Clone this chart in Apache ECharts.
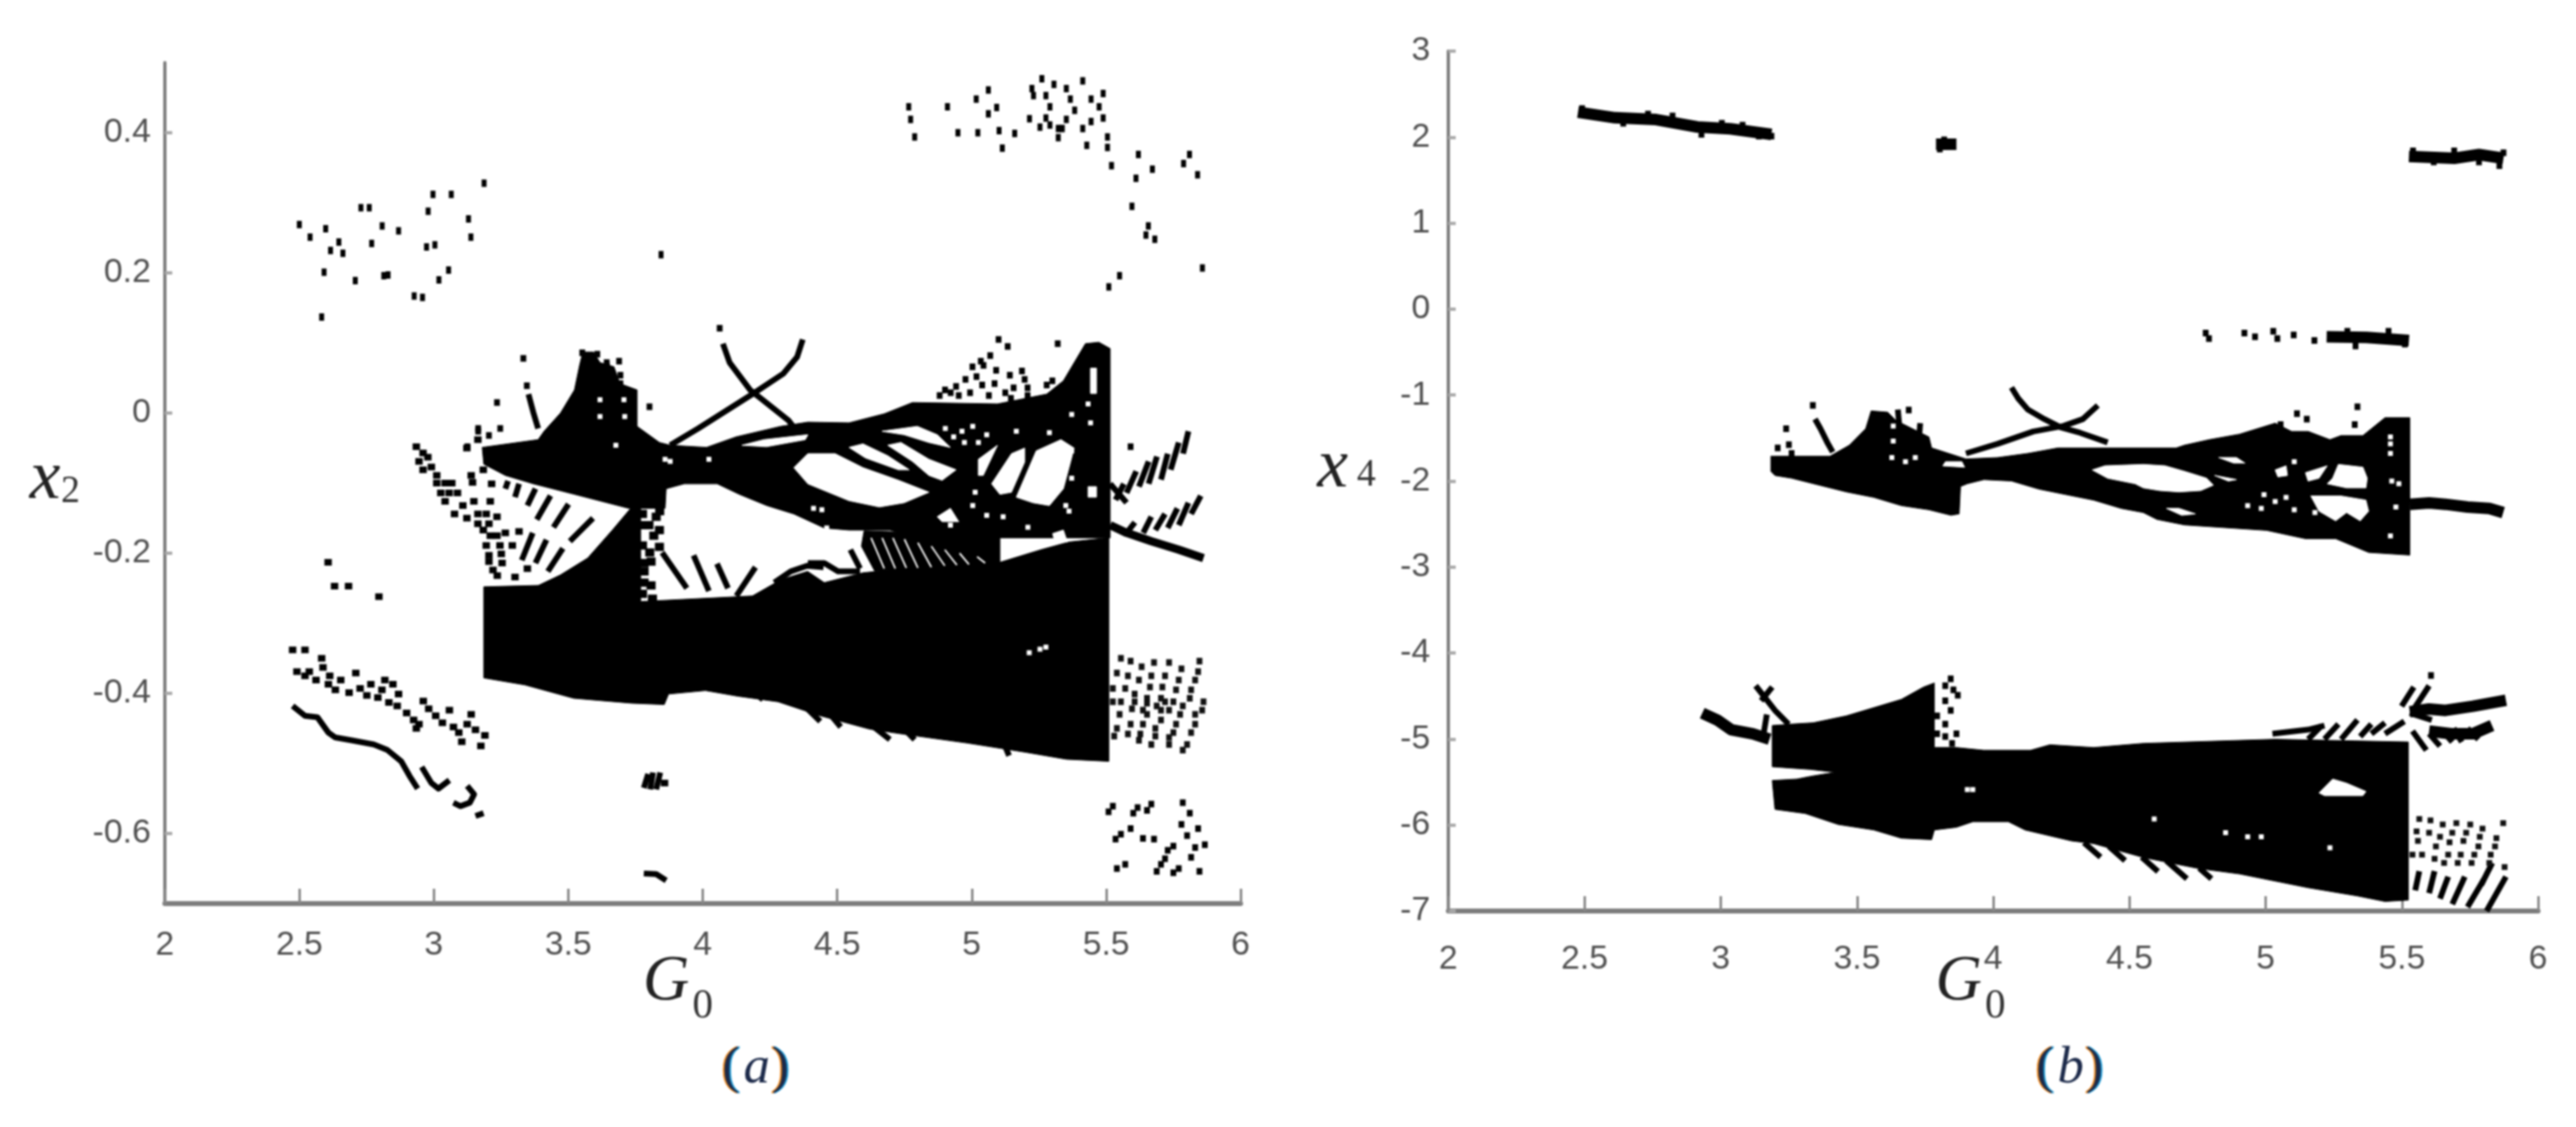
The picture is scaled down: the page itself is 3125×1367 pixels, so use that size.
<!DOCTYPE html>
<html><head><meta charset="utf-8">
<script src="https://cdn.jsdelivr.net/npm/echarts@6/dist/echarts.min.js"></script>
<style>html,body{margin:0;padding:0;background:#fff}#c{width:3125px;height:1367px;filter:blur(0.9px)}</style>
</head><body><div id="c"></div>
<script>
var gTicks=[2,2.5,3,3.5,4,4.5,5,5.5,6];
var x2Ticks=[-0.6,-0.4,-0.2,0,0.2,0.4];
var x4Ticks=[-7,-6,-5,-4,-3,-2,-1,0,1,2,3];

// ---------- panel (a): G0 vs x2 ----------
var aUpperBody=[[3.18,-0.049],[3.388,-0.038],[3.41,-0.026],[3.471,0],[3.523,0.033],[3.542,0.068],[3.554,0.087],[3.594,0.087],[3.618,0.072],[3.67,0.066],[3.692,0.042],[3.756,0.033],[3.756,-0.019],[3.839,-0.042],[3.879,-0.046],[4.014,-0.049],[4.124,-0.034],[4.29,-0.019],[4.391,-0.013],[4.544,-0.014],[4.676,-0.001],[4.78,0.015],[5.096,0.013],[5.279,0.027],[5.341,0.046],[5.423,0.099],[5.473,0.101],[5.515,0.092],[5.515,-0.178],[5.105,-0.178],[4.903,-0.191],[4.697,-0.167],[4.544,-0.167],[4.452,-0.164],[4.339,-0.144],[4.238,-0.132],[4.136,-0.116],[4.054,-0.101],[3.931,-0.101],[3.864,-0.108],[3.86,-0.136],[3.725,-0.136],[3.523,-0.116],[3.37,-0.101],[3.266,-0.089],[3.186,-0.073]];
var aLowerBlock=[[3.186,-0.248],[3.389,-0.246],[3.471,-0.231],[3.572,-0.207],[3.664,-0.167],[3.732,-0.136],[3.769,-0.136],[3.769,-0.269],[4.185,-0.261],[4.29,-0.238],[4.39,-0.226],[4.452,-0.242],[4.596,-0.228],[4.8,-0.22],[5.105,-0.213],[5.258,-0.195],[5.362,-0.184],[5.51,-0.178],[5.51,-0.497],[5.352,-0.494],[5.2,-0.484],[4.985,-0.471],[4.742,-0.458],[4.62,-0.451],[4.437,-0.432],[4.28,-0.412],[4.13,-0.404],[4.01,-0.396],[3.873,-0.401],[3.857,-0.416],[3.735,-0.414],[3.52,-0.407],[3.339,-0.388],[3.186,-0.378]];
var aHatchFill=[[4.6,-0.168],[5.105,-0.175],[5.105,-0.214],[4.8,-0.221],[4.64,-0.226],[4.59,-0.19]];
var aHoles=[
 [[4.339,-0.078],[4.391,-0.058],[4.492,-0.058],[4.596,-0.078],[4.728,-0.096],[4.841,-0.113],[4.749,-0.128],[4.657,-0.134],[4.544,-0.125],[4.391,-0.101]],
 [[4.688,-0.046],[4.737,-0.042],[4.841,-0.066],[4.942,-0.081],[4.89,-0.096],[4.841,-0.089],[4.78,-0.069]],
 [[4.544,-0.049],[4.596,-0.044],[4.688,-0.061],[4.768,-0.081],[4.728,-0.081],[4.605,-0.064]],
 [[4.667,-0.026],[4.798,-0.019],[4.872,-0.031],[4.921,-0.049],[4.841,-0.042],[4.749,-0.031]],
 [[5.074,-0.101],[5.148,-0.058],[5.197,-0.05],[5.197,-0.07],[5.148,-0.113],[5.105,-0.116]],
 [[5.166,-0.12],[5.24,-0.054],[5.332,-0.038],[5.381,-0.05],[5.362,-0.078],[5.341,-0.108],[5.289,-0.132],[5.228,-0.128]],
 [[5.025,-0.066],[5.096,-0.046],[5.043,-0.089],[5.025,-0.089]],
 [[5.301,-0.172],[5.341,-0.167],[5.356,-0.184],[5.31,-0.185]],
 [[4.872,-0.148],[4.921,-0.136],[4.952,-0.155],[4.89,-0.155]],
 [[5.442,0.064],[5.464,0.064],[5.464,0.028],[5.442,0.028]],
 [[5.433,-0.105],[5.464,-0.105],[5.464,-0.12],[5.433,-0.12]],
 [[4.146,-0.046],[4.228,-0.038],[4.391,-0.031],[4.381,-0.038],[4.237,-0.048]]
];
var aSlivers=[[[4.626,-0.178],[4.675,-0.222]],[[4.667,-0.178],[4.716,-0.222]],[[4.707,-0.178],[4.757,-0.221]],[[4.75,-0.18],[4.8,-0.221]],[[4.8,-0.185],[4.85,-0.22]],[[4.85,-0.19],[4.9,-0.218]],[[4.9,-0.195],[4.945,-0.217]],[[4.955,-0.2],[4.99,-0.216]],[[5.02,-0.205],[5.05,-0.214]]];
var aGaps=[[4.902,-0.022],[4.964,-0.026],[5.004,-0.019],[5.056,-0.031],[5.025,-0.042],[4.973,-0.042],[4.933,-0.034],[5.166,-0.026],[5.289,-0.028],[5.372,-0.002],[5.442,-0.014],[5.433,0.013],[5.372,-0.054],[5.372,-0.093],[5.013,-0.113],[5.004,-0.132],[5.056,-0.146],[5.117,-0.148],[5.209,-0.163],[5.258,-0.184],[5.362,-0.14],[5.35,-0.132],[4.921,-0.16],[4.412,-0.136],[4.443,-0.138],[4.461,-0.164],[3.618,0.019],[3.707,0.019],[3.618,-0.005],[3.71,-0.005],[3.86,-0.066],[3.879,-0.069],[4.023,-0.066],[3.677,-0.046],[5.254,-0.337],[5.214,-0.342],[5.276,-0.334]];
var aStrokes=[
 [[4.075,0.099],[4.1,0.072],[4.176,0.033],[4.216,0.021],[4.32,-0.011],[4.336,-0.019]],
 [[3.879,-0.046],[3.983,-0.022],[4.185,0.027],[4.299,0.056],[4.351,0.08],[4.372,0.105]],
 [[3.352,0.027],[3.37,0.001],[3.388,-0.022]],
 [[3.643,0.072],[3.649,0.037]],
 [[3.266,-0.108],[3.276,-0.097]],[[3.302,-0.12],[3.317,-0.101]],[[3.348,-0.132],[3.378,-0.108]],[[3.383,-0.152],[3.434,-0.118]],[[3.445,-0.163],[3.501,-0.13]],[[3.506,-0.183],[3.592,-0.15]],[[3.327,-0.21],[3.368,-0.171]],[[3.378,-0.214],[3.419,-0.181]],[[3.424,-0.226],[3.48,-0.193]],
 [[3.849,-0.199],[3.941,-0.25]],[[3.966,-0.203],[4.023,-0.254]],[[4.053,-0.215],[4.094,-0.25]],[[4.196,-0.22],[4.125,-0.261]],
 [[4.266,-0.242],[4.327,-0.226],[4.388,-0.218],[4.449,-0.22]],
 [[4.391,-0.214],[4.452,-0.214],[4.503,-0.226],[4.585,-0.226]],
 [[4.549,-0.195],[4.585,-0.222]],
 [[5.535,-0.124],[5.566,-0.101]],[[5.576,-0.114],[5.612,-0.083]],[[5.622,-0.105],[5.658,-0.069]],[[5.658,-0.101],[5.689,-0.062]],[[5.704,-0.095],[5.729,-0.058]],[[5.74,-0.081],[5.77,-0.042]],[[5.786,-0.058],[5.806,-0.026]],
 [[5.576,-0.171],[5.607,-0.156]],[[5.638,-0.171],[5.668,-0.148]],[[5.683,-0.167],[5.719,-0.144]],[[5.729,-0.164],[5.765,-0.136]],[[5.77,-0.16],[5.806,-0.128]],[[5.816,-0.144],[5.852,-0.118]],
 [[5.515,-0.101],[5.576,-0.128]],
 [[2.475,-0.418],[2.521,-0.432],[2.567,-0.434],[2.608,-0.456],[2.634,-0.463],[2.695,-0.467],[2.777,-0.473],[2.828,-0.481],[2.879,-0.497],[2.91,-0.518],[2.94,-0.536]],
 [[2.955,-0.505],[2.991,-0.528],[3.017,-0.536],[3.058,-0.524]],
 [[3.124,-0.532],[3.15,-0.544],[3.134,-0.556],[3.099,-0.561],[3.073,-0.556]],
 [[3.155,-0.575],[3.185,-0.571]],
 [[3.797,-0.515],[3.781,-0.535]],[[3.842,-0.513],[3.827,-0.537]],[[3.815,-0.513],[3.805,-0.537]],
 [[3.781,-0.657],[3.827,-0.658],[3.864,-0.667]],
 [[4.376,-0.417],[4.437,-0.44]],[[4.468,-0.427],[4.513,-0.448]],[[4.62,-0.443],[4.696,-0.466]],[[4.742,-0.448],[4.788,-0.466]],[[5.123,-0.474],[5.139,-0.489]],[[4.193,-0.399],[4.224,-0.409]]
];
var aThick=[[[5.515,-0.16],[5.576,-0.171],[5.668,-0.183],[5.77,-0.195],[5.862,-0.207]]];
var aCloudLeft=[[2.5,0.269],[2.54,0.251],[2.598,0.263],[2.647,0.244],[2.616,0.232],[2.662,0.228],[2.592,0.201],[2.583,0.137],[2.708,0.189],[2.769,0.242],[2.808,0.267],[2.869,0.26],[2.729,0.293],[2.76,0.293],[2.83,0.197],[2.814,0.196],[2.927,0.167],[2.958,0.165],[2.979,0.288],[2.997,0.312],[2.973,0.237],[3.004,0.24],[3.065,0.312],[3.129,0.277],[3.138,0.251],[3.187,0.328],[3.019,0.19],[3.055,0.204],[3.845,0.226]];
var aCloudRight=[[4.766,0.437],[4.773,0.419],[4.788,0.394],[4.91,0.437],[4.949,0.4],[5.023,0.4],[5.102,0.403],[5.16,0.399],[5.114,0.378],[5.017,0.448],[5.062,0.461],[5.062,0.427],[5.093,0.436],[5.215,0.42],[5.224,0.463],[5.261,0.477],[5.276,0.453],[5.291,0.437],[5.254,0.408],[5.322,0.393],[5.352,0.463],[5.413,0.474],[5.489,0.456],[5.489,0.421],[5.383,0.432],[5.337,0.406],[5.413,0.406],[5.428,0.382],[5.505,0.394],[5.505,0.379],[5.52,0.353],[5.62,0.369],[5.611,0.335],[5.672,0.348],[5.81,0.369],[5.788,0.356],[5.84,0.34],[5.596,0.295],[5.657,0.267],[5.648,0.254],[5.681,0.248],[5.55,0.196],[5.51,0.18],[5.858,0.207],[5.23,0.453],[5.306,0.469],[5.444,0.448],[5.474,0.437],[5.276,0.421],[5.352,0.419],[5.444,0.416],[5.367,0.448],[5.291,0.411],[5.322,0.406]];
var aCrown=[[5.1,0.105],[5.134,0.095],[5.069,0.082],[5.034,0.074],[5.003,0.066],[5.044,0.068],[5.091,0.061],[5.142,0.054],[5.187,0.06],[5.197,0.048],[5.018,0.052],[4.977,0.048],[4.942,0.038],[4.901,0.033],[5.039,0.04],[5.085,0.042],[5.156,0.036],[5.208,0.036],[5.125,0.029],[5.208,0.025],[5.32,0.099],[5.279,0.04],[5.3,0.046],[4.952,0.025],[5.064,0.025],[5.146,0.021],[4.881,0.025],[4.922,0.029],[4.994,0.029],[3.552,0.086],[3.608,0.084],[3.643,0.072],[3.689,0.074],[3.694,0.054],[3.694,0.042],[3.643,0.06],[4.063,0.121],[3.333,0.078],[3.346,0.039],[3.235,0.015],[3.165,-0.026],[3.205,-0.032],[3.247,-0.022],[3.125,-0.048],[3.165,-0.022],[3.802,0.009],[5.591,-0.048]];
var aArcDots=[[2.935,-0.048],[2.96,-0.057],[2.978,-0.063],[2.945,-0.069],[2.991,-0.077],[2.96,-0.081],[3.011,-0.089],[3.011,-0.1],[3.042,-0.1],[3.067,-0.1],[3.026,-0.114],[3.057,-0.114],[3.088,-0.114],[3.042,-0.126],[3.108,-0.132],[3.149,-0.126],[3.21,-0.126],[3.077,-0.144],[3.123,-0.15],[3.164,-0.144],[3.195,-0.144],[3.164,-0.158],[3.205,-0.158],[3.235,-0.148],[3.184,-0.167],[3.21,-0.175],[3.266,-0.171],[3.317,-0.169],[3.235,-0.175],[3.195,-0.189],[3.246,-0.189],[3.292,-0.189],[3.205,-0.203],[3.251,-0.201],[3.205,-0.212],[3.254,-0.214],[3.22,-0.224],[3.236,-0.232],[3.302,-0.234],[3.348,-0.222],[3.139,-0.089],[3.144,-0.099],[3.184,-0.081],[3.215,-0.101],[3.123,-0.05],[3.164,-0.038]];
var aColumnDots=[[3.776,-0.144],[3.827,-0.148],[3.776,-0.16],[3.839,-0.167],[3.818,-0.175],[3.776,-0.189],[3.839,-0.191],[3.803,-0.199],[3.782,-0.214],[3.808,-0.212],[3.782,-0.226],[3.782,-0.242],[3.808,-0.246],[3.776,-0.258],[3.813,-0.265],[3.84,-0.14],[3.8,-0.16]];
var aStrandDots=[[2.475,-0.338],[2.521,-0.338],[2.583,-0.35],[2.588,-0.363],[2.491,-0.369],[2.521,-0.375],[2.537,-0.369],[2.562,-0.381],[2.613,-0.375],[2.608,-0.387],[2.654,-0.381],[2.71,-0.371],[2.634,-0.395],[2.685,-0.399],[2.726,-0.393],[2.766,-0.387],[2.751,-0.403],[2.792,-0.406],[2.818,-0.381],[2.848,-0.387],[2.807,-0.395],[2.833,-0.413],[2.869,-0.401],[2.864,-0.418],[2.899,-0.428],[2.925,-0.438],[2.945,-0.444],[2.935,-0.45],[2.961,-0.411],[2.981,-0.422],[3.007,-0.432],[3.032,-0.442],[3.058,-0.424],[3.073,-0.448],[3.093,-0.456],[3.104,-0.469],[3.124,-0.444],[3.139,-0.43],[3.155,-0.452],[3.19,-0.46],[3.175,-0.475],[2.607,-0.213],[2.631,-0.247],[2.683,-0.247],[2.796,-0.262],[3.858,-0.528]];
var aGridDots=[[5.555,-0.35],[5.591,-0.354],[5.632,-0.362],[5.678,-0.356],[5.734,-0.356],[5.78,-0.365],[5.847,-0.354],[5.54,-0.371],[5.581,-0.375],[5.622,-0.381],[5.668,-0.375],[5.719,-0.375],[5.77,-0.381],[5.831,-0.381],[5.842,-0.369],[5.571,-0.393],[5.525,-0.393],[5.606,-0.401],[5.663,-0.391],[5.709,-0.391],[5.76,-0.395],[5.816,-0.395],[5.525,-0.412],[5.555,-0.412],[5.606,-0.412],[5.652,-0.407],[5.652,-0.414],[5.704,-0.407],[5.719,-0.412],[5.75,-0.412],[5.811,-0.407],[5.785,-0.418],[5.862,-0.412],[5.596,-0.422],[5.637,-0.424],[5.652,-0.43],[5.688,-0.418],[5.704,-0.424],[5.734,-0.424],[5.775,-0.43],[5.857,-0.424],[5.55,-0.43],[5.54,-0.45],[5.591,-0.444],[5.637,-0.444],[5.704,-0.438],[5.76,-0.444],[5.831,-0.444],[5.831,-0.43],[5.53,-0.461],[5.581,-0.458],[5.627,-0.458],[5.683,-0.45],[5.75,-0.456],[5.816,-0.456],[5.622,-0.467],[5.668,-0.473],[5.683,-0.461],[5.734,-0.463],[5.734,-0.473],[5.801,-0.473],[5.785,-0.481]];
var aBottomDots=[[5.525,-0.561],[5.509,-0.569],[5.617,-0.563],[5.601,-0.571],[5.668,-0.558],[5.652,-0.567],[5.785,-0.556],[5.811,-0.571],[5.78,-0.587],[5.591,-0.593],[5.555,-0.601],[5.535,-0.608],[5.637,-0.607],[5.678,-0.608],[5.801,-0.603],[5.842,-0.593],[5.75,-0.618],[5.729,-0.624],[5.719,-0.636],[5.704,-0.644],[5.688,-0.654],[5.867,-0.616],[5.831,-0.62],[5.816,-0.634],[5.571,-0.644],[5.54,-0.65],[5.75,-0.656],[5.77,-0.65],[5.847,-0.654]];

// ---------- panel (b): G0 vs x4 ----------
var bUpperBody=[[3.194,-1.711],[3.401,-1.711],[3.472,-1.583],[3.532,-1.391],[3.552,-1.184],[3.613,-1.2],[3.643,-1.296],[3.764,-1.487],[3.774,-1.615],[3.9,-1.743],[4.016,-1.727],[4.127,-1.679],[4.238,-1.615],[4.42,-1.615],[4.672,-1.615],[4.702,-1.583],[4.793,-1.519],[4.904,-1.455],[5.035,-1.327],[5.095,-1.423],[5.156,-1.423],[5.236,-1.519],[5.277,-1.471],[5.357,-1.471],[5.438,-1.263],[5.529,-1.263],[5.529,-2.861],[5.378,-2.83],[5.257,-2.67],[5.146,-2.67],[5.004,-2.574],[4.853,-2.542],[4.702,-2.51],[4.601,-2.446],[4.551,-2.366],[4.47,-2.318],[4.369,-2.222],[4.268,-2.158],[4.168,-2.094],[4.067,-1.999],[3.966,-1.983],[3.905,-2.031],[3.88,-2.063],[3.875,-2.382],[3.845,-2.398],[3.764,-2.334],[3.663,-2.286],[3.562,-2.19],[3.461,-2.126],[3.361,-2.047],[3.26,-1.967],[3.199,-1.935],[3.184,-1.887],[3.184,-1.711]];
var bLowerBody=[[3.189,-4.843],[3.259,-4.827],[3.34,-4.811],[3.461,-4.731],[3.562,-4.635],[3.663,-4.539],[3.744,-4.396],[3.784,-4.348],[3.784,-5.099],[3.865,-5.099],[3.965,-5.131],[4.137,-5.131],[4.208,-5.067],[4.369,-5.099],[4.551,-5.051],[5.035,-5.003],[5.524,-5.035],[5.524,-6.873],[5.438,-6.889],[5.337,-6.825],[5.156,-6.729],[5.055,-6.665],[4.904,-6.569],[4.752,-6.505],[4.651,-6.441],[4.551,-6.377],[4.369,-6.217],[4.288,-6.185],[4.117,-6.058],[4.056,-5.962],[3.925,-5.962],[3.865,-6.026],[3.784,-6.058],[3.774,-6.17],[3.663,-6.153],[3.562,-6.058],[3.431,-5.994],[3.31,-5.866],[3.199,-5.818],[3.189,-5.482],[3.28,-5.466],[3.33,-5.434],[3.421,-5.386],[3.33,-5.354],[3.259,-5.338],[3.189,-5.322]];
var bHoles=[
 [[4.364,-1.871],[4.41,-1.823],[4.551,-1.807],[4.631,-1.823],[4.702,-1.887],[4.783,-1.967],[4.808,-2.047],[4.762,-2.11],[4.682,-2.126],[4.611,-2.11],[4.551,-2.079],[4.521,-2.031],[4.42,-1.967]],
 [[5.246,-1.967],[5.267,-1.807],[5.357,-1.839],[5.373,-1.967],[5.368,-2.079],[5.297,-2.079],[5.226,-2.031]],
 [[5.166,-2.174],[5.277,-2.174],[5.368,-2.222],[5.378,-2.35],[5.347,-2.462],[5.297,-2.366],[5.257,-2.462],[5.196,-2.35]],
 [[5.146,-1.903],[5.226,-1.823],[5.196,-1.967],[5.156,-2.0]],
 [[5.035,-1.871],[5.075,-1.823],[5.08,-1.935],[5.045,-1.951]],
 [[4.828,-1.727],[4.893,-1.727],[4.924,-1.791],[4.883,-1.791]],
 [[4.813,-1.935],[4.893,-1.983],[4.863,-2.0]],
 [[4.636,-2.318],[4.682,-2.318],[4.742,-2.382],[4.692,-2.398]],
 [[3.825,-1.775],[3.885,-1.775],[3.895,-1.839],[3.815,-1.823]],
 [[5.196,-5.626],[5.246,-5.466],[5.297,-5.514],[5.368,-5.61],[5.357,-5.658],[5.216,-5.658]]
];
var bGaps=[[5.458,-1.487],[5.458,-1.567],[5.458,-1.679],[5.463,-2.0],[5.489,-2.031],[5.478,-2.302],[5.458,-2.638],[4.934,-2.286],[4.994,-2.158],[5.035,-2.238],[5.075,-2.19],[4.984,-2.318],[5.105,-2.334],[5.181,-2.366],[5.105,-1.775],[3.633,-1.535],[3.714,-1.727],[3.628,-1.727],[3.678,-1.775],[3.633,-1.36],[3.925,-5.588],[3.905,-5.588],[4.934,-6.137],[4.984,-6.137],[4.853,-6.089],[5.236,-6.265],[4.591,-5.93]];
var bStrokes=[
 [[4.067,-0.912],[4.092,-1.04],[4.127,-1.168],[4.188,-1.28],[4.248,-1.375],[4.319,-1.439],[4.42,-1.551]],
 [[3.9,-1.679],[4.016,-1.567],[4.147,-1.423],[4.258,-1.359],[4.329,-1.28],[4.384,-1.12]],
 [[3.346,-1.279],[3.366,-1.391],[3.391,-1.551],[3.411,-1.663]],
 [[3.65,-1.168],[3.658,-1.455]],[[3.732,-1.327],[3.729,-1.455]],
 [[4.333,-6.205],[4.394,-6.373]],[[4.424,-6.247],[4.484,-6.415]],[[4.545,-6.373],[4.605,-6.542]],[[4.635,-6.415],[4.711,-6.626]],[[4.756,-6.5],[4.801,-6.626]],
 [[3.128,-4.38],[3.199,-4.667],[3.249,-4.827]],[[3.189,-4.396],[3.148,-4.555]],[[3.169,-4.715],[3.154,-5.003]],
 [[5.499,-4.619],[5.544,-4.396]],[[5.544,-4.651],[5.6,-4.38]],
 [[5.529,-4.699],[5.61,-4.779]],
 [[5.539,-4.907],[5.59,-5.131]],[[5.6,-4.939],[5.64,-5.083]],[[5.65,-4.907],[5.685,-5.035]],[[5.69,-4.875],[5.72,-5.035]],[[5.741,-4.875],[5.781,-5.003]],
 [[5.156,-5.003],[5.206,-4.843]],[[5.216,-5.003],[5.267,-4.827]],[[5.277,-5.003],[5.337,-4.779]],[[5.347,-4.971],[5.388,-4.827]],[[5.388,-4.939],[5.438,-4.811]],[[5.438,-4.939],[5.509,-4.795]],
 [[5.025,-4.939],[5.156,-4.891],[5.216,-4.843]],
 [[5.564,-6.537],[5.549,-6.761]],[[5.62,-6.537],[5.6,-6.793]],[[5.67,-6.601],[5.64,-6.857]],[[5.731,-6.601],[5.685,-6.921]],[[5.801,-6.633],[5.741,-6.953]],[[5.882,-6.601],[5.811,-7.0]],[[5.832,-6.441],[5.791,-6.697]]
];
var bThick=[
 [[2.476,2.289],[2.612,2.225],[2.763,2.204],[2.914,2.118],[3.035,2.096],[3.186,2.032]],
 [[3.79,1.917],[3.865,1.917]],
 [[5.526,1.775],[5.692,1.754],[5.783,1.797],[5.873,1.754]],
 [[5.529,-2.27],[5.6,-2.254],[5.66,-2.27],[5.741,-2.302],[5.821,-2.318],[5.872,-2.366]],
 [[2.932,-4.699],[2.987,-4.779],[3.038,-4.891],[3.118,-4.939],[3.179,-5.003]],
 [[5.529,-4.683],[5.6,-4.651],[5.66,-4.667],[5.761,-4.619],[5.882,-4.549]],
 [[5.6,-4.907],[5.68,-4.939],[5.761,-4.939],[5.831,-4.843]],
 [[5.224,-0.322],[5.37,-0.33],[5.526,-0.365]]
];
var bDots=[[3.338,-1.12],[3.24,-1.391],[3.25,-1.577],[3.209,-1.615],[3.26,-1.679],[3.69,-1.174],[5.115,-1.216],[5.151,-1.28],[5.337,-1.136],[5.327,-1.343],[5.055,-1.343],[3.82,1.968],[3.804,1.861],[4.78,-0.279],[4.792,-0.343],[4.922,-0.279],[4.961,-0.322],[5.028,-0.258],[5.043,-0.343],[5.103,-0.301],[5.179,-0.365],[3.844,-4.3],[3.854,-4.428],[3.824,-4.38],[3.87,-4.491],[3.824,-4.555],[3.844,-4.667],[3.794,-4.731],[3.824,-4.827],[3.865,-4.939],[3.824,-4.971],[3.849,-5.051],[3.794,-4.939],[5.607,-4.261],[2.491,2.332],[2.552,2.268],[2.642,2.161],[2.733,2.268],[2.823,2.246],[2.929,2.032],[3.004,2.161],[3.08,2.139],[3.14,2.011],[3.186,2.011],[5.541,1.84],[5.617,1.711],[5.692,1.84],[5.783,1.711],[5.858,1.668],[5.873,1.818],[5.3,-0.258],[5.451,-0.258],[5.33,-0.429],[5.511,-0.407]];
var bGridDots=[[5.564,-5.93],[5.605,-5.946],[5.65,-5.994],[5.7,-5.978],[5.751,-5.994],[5.796,-6.042],[5.872,-5.978],[5.554,-6.074],[5.6,-6.09],[5.64,-6.137],[5.685,-6.09],[5.736,-6.09],[5.786,-6.137],[5.847,-6.153],[5.559,-6.185],[5.625,-6.249],[5.675,-6.201],[5.726,-6.185],[5.781,-6.249],[5.842,-6.249],[5.539,-6.345],[5.574,-6.345],[5.62,-6.393],[5.67,-6.345],[5.716,-6.345],[5.766,-6.345],[5.826,-6.345],[5.655,-6.441],[5.705,-6.441],[5.756,-6.441],[5.821,-6.441],[5.877,-6.489]];

// ---------- series builders ----------
function polySeries(polys,color,g,z){
  return {type:'custom',xAxisIndex:g,yAxisIndex:g,z:z,silent:true,clip:false,
    data:polys.map(function(p,i){return [p[0][0],p[0][1],i];}),
    renderItem:function(params,api){
      var pts=polys[params.dataIndex].map(function(q){return api.coord(q);});
      return {type:'polygon',shape:{points:pts},style:{fill:color,stroke:color,lineWidth:1}};
    }};
}
function lineSeries(lines,width,g,z,color){
  return {type:'custom',xAxisIndex:g,yAxisIndex:g,z:z,silent:true,clip:false,
    data:lines.map(function(p,i){return [p[0][0],p[0][1],i];}),
    renderItem:function(params,api){
      var pts=lines[params.dataIndex].map(function(q){return api.coord(q);});
      return {type:'polyline',shape:{points:pts},style:{fill:null,stroke:color||'#000',lineWidth:width,lineCap:'butt',lineJoin:'round'}};
    }};
}
function dotSeries(pts,size,color,g,z){
  return {type:'scatter',xAxisIndex:g,yAxisIndex:g,z:z,silent:true,symbol:'rect',symbolSize:size,
    itemStyle:{color:color,opacity:1},data:pts,animation:false};
}
function xAxisCfg(g){
  return {type:'value',gridIndex:g,min:2,max:6,
    axisLine:{show:true,onZero:false,lineStyle:{color:'#7d7d7d',width:6}},
    axisTick:{show:true,inside:true,length:18,customValues:gTicks,lineStyle:{color:'#888',width:3}},
    axisLabel:{show:true,customValues:gTicks,margin:g?38:30,color:'#4f4f4f',fontFamily:'Liberation Sans',fontSize:41},
    splitLine:{show:false}};
}
function yAxisCfg(g,ticks,mn,mx,marg){
  return {type:'value',gridIndex:g,min:mn,max:mx,
    axisLine:{show:true,onZero:false,lineStyle:{color:'#7d7d7d',width:4}},
    axisTick:{show:true,inside:true,length:9,customValues:ticks,lineStyle:{color:'#aaa',width:4}},
    axisLabel:{show:true,customValues:ticks,margin:marg,color:'#4f4f4f',fontFamily:'Liberation Sans',fontSize:41},
    splitLine:{show:false}};
}
function txt(s,x,y,size,opt){
  opt=opt||{};
  return {type:'text',left:x,top:y,silent:true,z:50,style:{text:s,fill:opt.c||'#222',
    font:(opt.it===false?'':'italic ')+size+'px "Liberation Serif"'}};
}
function caption(s,x,y){
  var out=[];
  out.push(txt('(',x-2,y,64,{c:'#f08a1d',it:false}));
  out.push(txt('(',x+2,y,64,{c:'#1a9ad6',it:false}));
  out.push(txt('(',x,y,64,{c:'#1c2a4a',it:false}));
  out.push(txt(s,x+26,y,64,{c:'#1c2a4a'}));
  out.push(txt(')',x+58,y,64,{c:'#f08a1d',it:false}));
  out.push(txt(')',x+62,y,64,{c:'#1a9ad6',it:false}));
  out.push(txt(')',x+60,y,64,{c:'#1c2a4a',it:false}));
  return out;
}

var option={
  animation:false,backgroundColor:'#fff',
  grid:[{left:200,top:76,width:1305,height:1020},{left:1757,top:62,width:1322,height:1043}],
  xAxis:[xAxisCfg(0),xAxisCfg(1)],
  yAxis:[yAxisCfg(0,x2Ticks,-0.7,0.5,17),yAxisCfg(1,x4Ticks,-7,3,22)],
  graphic:[
    txt('G',780,1152,78),txt('0',840,1196,50,{it:false,c:'#333'}),
    txt('x',36,540,84),txt('2',74,574,46,{it:false,c:'#333'}),
    txt('G',2348,1152,78),txt('0',2408,1196,50,{it:false,c:'#333'}),
    txt('x',1598,526,84),txt('4',1646,554,46,{it:false,c:'#333'})
  ].concat(caption('a',876,1264)).concat(caption('b',2470,1264)),
  series:[
    polySeries([aUpperBody,aLowerBlock,aHatchFill],'#000',0,1),
    polySeries(aHoles,'#fff',0,2),
    lineSeries(aSlivers,2,0,2,'#fff'),
    dotSeries(aGaps,[6,6],'#fff',0,3),
    lineSeries(aStrokes,7,0,4),
    lineSeries(aThick,10,0,4),
    dotSeries(aCloudLeft,[6,9],'#000',0,5),
    dotSeries(aCloudRight,[6,9],'#000',0,5),
    dotSeries(aCrown,[7,8],'#000',0,5),
    dotSeries(aArcDots,[9,8],'#000',0,5),
    dotSeries(aColumnDots,[11,10],'#000',0,5),
    dotSeries(aStrandDots,[9,8],'#000',0,5),
    dotSeries(aGridDots,[7,8],'#111',0,5),
    dotSeries(aBottomDots,[7,8],'#000',0,5),
    polySeries([bUpperBody,bLowerBody],'#000',1,1),
    polySeries(bHoles,'#fff',1,2),
    dotSeries(bGaps,[6,6],'#fff',1,3),
    lineSeries(bStrokes,7,1,4),
    lineSeries(bThick,14,1,4),
    dotSeries(bDots,[7,8],'#000',1,5),
    dotSeries(bGridDots,[7,7],'#111',1,5)
  ]
};
var chart=echarts.init(document.getElementById('c'),null,{renderer:'canvas'});
chart.setOption(option);
</script></body></html>
